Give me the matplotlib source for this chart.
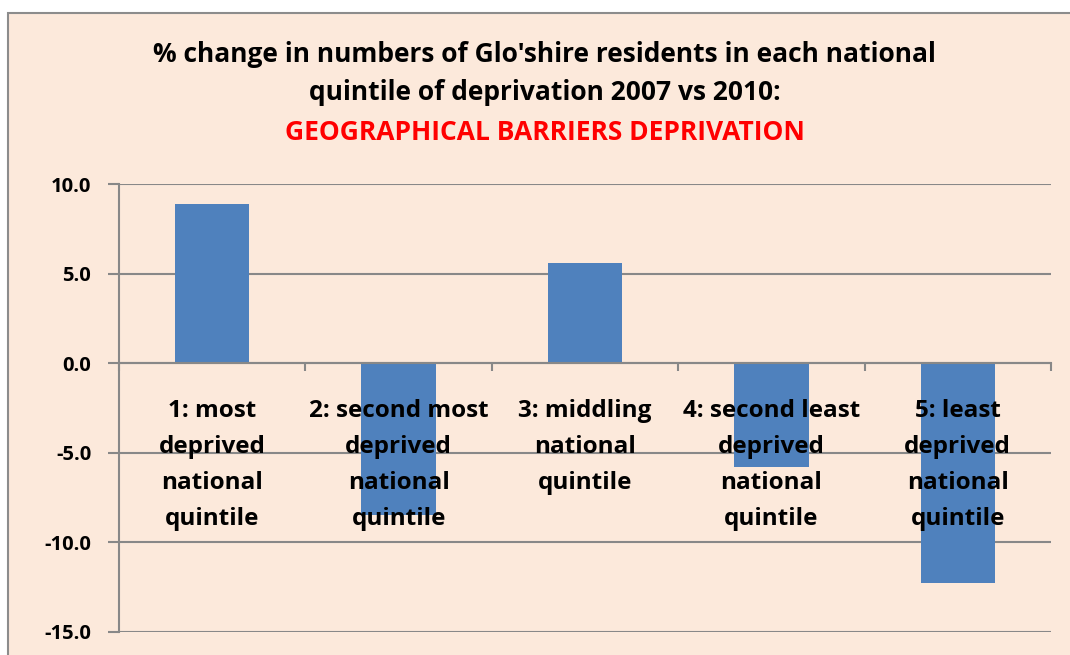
import matplotlib
matplotlib.use("Agg")
import matplotlib.pyplot as plt
from matplotlib.patches import Rectangle
from matplotlib.ticker import FixedLocator

# data
categories = [
    "1: most\ndeprived\nnational\nquintile",
    "2: second most\ndeprived\nnational\nquintile",
    "3: middling\nnational\nquintile",
    "4: second least\ndeprived\nnational\nquintile",
    "5: least\ndeprived\nnational\nquintile",
]
pct_change = [8.9, -8.5, 5.6, -5.8, -12.3]
y_ticks = [-15, -10, -5, 0, 5, 10]

title_lines = [
    "% change in numbers of Glo'shire residents in each national",
    "quintile of deprivation 2007 vs 2010:",
]
subtitle = "GEOGRAPHICAL BARRIERS DEPRIVATION"

bg = "#FCE9DB"
grid_col = "#888888"
bar_col = "#4F81BD"

plt.rcParams["font.family"] = ["Open Sans", "DejaVu Sans"]
plt.rcParams["font.weight"] = "bold"

fig = plt.figure(figsize=(10.7, 6.55), dpi=100)
fig.patch.set_facecolor("white")

# chart area frame (runs off right/bottom edge like the screenshot)
fig.add_artist(Rectangle((8 / 1070, -0.05), 1.2, 1 - 13 / 655 + 0.05,
                         transform=fig.transFigure, facecolor=bg,
                         edgecolor="#8C8C8C", linewidth=1.5, zorder=0))

ax = fig.add_axes([119 / 1070, 1 - 631.7 / 655, (1051 - 119) / 1070,
                   (631.7 - 184.3) / 655])
ax.set_facecolor("none")

x = range(len(categories))
ax.bar(x, pct_change, width=0.4, color=bar_col, zorder=1)

ax.set_xlim(-0.5, len(categories) - 0.5)
ax.set_ylim(-15, 10)

# horizontal gridlines under the bars
ax.set_yticks(y_ticks)
ax.set_yticklabels([f"{v:.1f}" for v in y_ticks])
ax.yaxis.grid(True, color=grid_col, linewidth=1.5)
ax.yaxis.set_zorder(0.5)
ax.tick_params(axis="y", length=8, width=1.5, color=grid_col, pad=12,
               labelsize=14.5)

# category axis sits on zero, labels drawn over the bars
ax.spines["bottom"].set_position(("data", 0))
ax.spines["bottom"].set_color(grid_col)
ax.spines["bottom"].set_linewidth(1.5)
ax.spines["left"].set_color(grid_col)
ax.spines["left"].set_linewidth(1.5)
ax.spines["top"].set_visible(False)
ax.spines["right"].set_visible(False)

ax.set_xticks(list(x))
ax.set_xticklabels(categories, linespacing=1.66)
ax.xaxis.set_minor_locator(FixedLocator([i + 0.5 for i in range(-1, len(categories))]))
ax.tick_params(axis="x", which="major", length=0, pad=26, labelsize=17.5)
ax.tick_params(axis="x", which="minor", length=6, width=1.5, color=grid_col)
ax.xaxis.set_zorder(3)

fig.text(0.509, 1 - 54 / 655, title_lines[0], ha="center", va="center",
         fontsize=19, fontweight="bold")
fig.text(0.509, 1 - 93 / 655, title_lines[1], ha="center", va="center",
         fontsize=19, fontweight="bold")
fig.text(0.509, 1 - 132 / 655, subtitle, ha="center", va="center",
         fontsize=19, fontweight="bold", color="#FF0000")

fig.savefig("out.png", dpi=100, facecolor=fig.get_facecolor())
